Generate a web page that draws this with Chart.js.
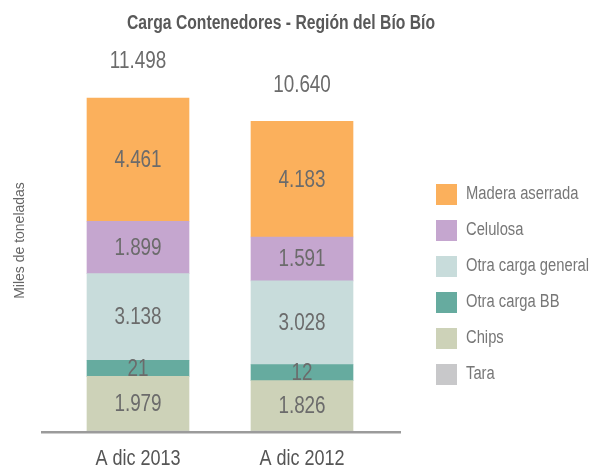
<!DOCTYPE html>
<html><head><meta charset="utf-8">
<script src="https://cdn.jsdelivr.net/npm/chart.js@4"></script>
<style>html,body{margin:0;padding:0;background:#fff}</style>
</head><body>
<canvas id="c" width="595" height="468" style="display:block;width:595px;height:468px"></canvas>
<script>
const categories = ['A dic 2013', 'A dic 2012'];
const tara = [0, 0];
const chips = [1979, 1826];
const otraCargaBB = [21, 12];
const otraCargaGeneral = [3138, 3028];
const celulosa = [1899, 1591];
const maderaAserrada = [4461, 4183];
const chartTitle = 'Carga Contenedores - Región del Bío Bío';
const yTitle = 'Miles de toneladas';

const F = '"Liberation Sans", Arimo, sans-serif';
const NARROW = 0.82;
const fmt = v => String(v).replace(/\B(?=(\d{3})+(?!\d))/g, '.');

const canvas = document.getElementById('c');
const c2d = canvas.getContext('2d');
const nativeFill = CanvasRenderingContext2D.prototype.fillText;
c2d.fillText = function (text, x, y, maxWidth) {
  if (this.font.indexOf('Liberation Sans') >= 0) {
    const w = this.measureText(text).width * NARROW;
    const mw = (maxWidth === undefined || maxWidth === null || isNaN(maxWidth)) ? w : Math.min(maxWidth, w);
    return nativeFill.call(this, text, x, y, mw);
  }
  return (maxWidth === undefined) ? nativeFill.call(this, text, x, y) : nativeFill.call(this, text, x, y, maxWidth);
};

const datasets = [
  { label: 'Tara', data: tara, backgroundColor: '#c8c8ca' },
  { label: 'Chips', data: chips, backgroundColor: '#cdd2b8' },
  { label: 'Otra carga BB', data: otraCargaBB, backgroundColor: '#66ab9f', minBarLength: 16 },
  { label: 'Otra carga general', data: otraCargaGeneral, backgroundColor: '#c8dcdb' },
  { label: 'Celulosa', data: celulosa, backgroundColor: '#c5a6cf' },
  { label: 'Madera aserrada', data: maderaAserrada, backgroundColor: '#fbb05c' }
];
datasets.forEach(d => { d.barThickness = 102; d.borderWidth = 0; });

const layoutTweaks = {
  id: 'layoutTweaks',
  afterLayout(chart) {
    const lg = chart.legend;
    if (lg) { const w = lg.width, h = lg.height; lg.left = 421; lg.top = 169; lg.right = lg.left + w; lg.bottom = lg.top + h; }
    const tb = chart.titleBlock;
    if (tb) { tb.left = 127; tb.right = 435; tb.width = 308; }
  }
};

const labelsPlugin = {
  id: 'valueLabels',
  afterDatasetsDraw(chart) {
    const ctx = chart.ctx;
    const area = chart.chartArea;
    ctx.save();
    ctx.strokeStyle = '#9b9b9b';
    ctx.lineWidth = 2.5;
    ctx.beginPath();
    ctx.moveTo(area.left - 15, area.bottom + 1.2);
    ctx.lineTo(area.right + 17, area.bottom + 1.2);
    ctx.stroke();
    ctx.font = '23px ' + F;
    ctx.fillStyle = '#6b6b6b';
    ctx.textAlign = 'center';
    ctx.textBaseline = 'middle';
    const tops = [], totals = [];
    chart.data.datasets.forEach((ds, i) => {
      const meta = chart.getDatasetMeta(i);
      meta.data.forEach((bar, j) => {
        totals[j] = (totals[j] || 0) + ds.data[j];
        if (ds.data[j] > 0) tops[j] = Math.min(tops[j] ?? Infinity, bar.y);
        if (ds.label === 'Tara') return;
        ctx.fillText(fmt(ds.data[j]), bar.x, (bar.y + bar.base) / 2 + 1);
      });
    });
    chart.getDatasetMeta(1).data.forEach((bar, j) => {
      ctx.fillText(fmt(totals[j]), bar.x, tops[j] - 36);
    });
    ctx.restore();
  }
};

new Chart(canvas, {
  type: 'bar',
  data: { labels: categories, datasets },
  plugins: [layoutTweaks, labelsPlugin],
  options: {
    responsive: false,
    animation: false,
    devicePixelRatio: 1,
    layout: { padding: { left: 0, right: 211, top: 0, bottom: 0 } },
    plugins: {
      title: { display: true, text: chartTitle, color: '#595959', font: { family: F, size: 20, weight: 'bold', lineHeight: 1.2 }, padding: { top: 11, bottom: 15 } },
      legend: { position: 'chartArea', align: 'start', reverse: true,
        labels: { boxWidth: 21, boxHeight: 21, padding: 15, color: '#777777', font: { family: F, size: 18 } } },
      tooltip: { enabled: false }
    },
    scales: {
      x: { stacked: true, grid: { display: false }, border: { display: false },
        ticks: { color: '#555555', font: { family: F, size: 22 }, padding: 7 },
        afterFit(s) { s.height = 37; } },
      y: { stacked: true, min: 0, max: 13794, grid: { display: false }, border: { display: false },
        ticks: { display: false },
        title: { display: true, text: yTitle, color: '#666666', font: { family: 'Arial, sans-serif', size: 14 }, padding: { top: 12, bottom: 0 } },
        afterFit(s) { s.width = 56; } }
    }
  }
});
</script>
</body></html>
